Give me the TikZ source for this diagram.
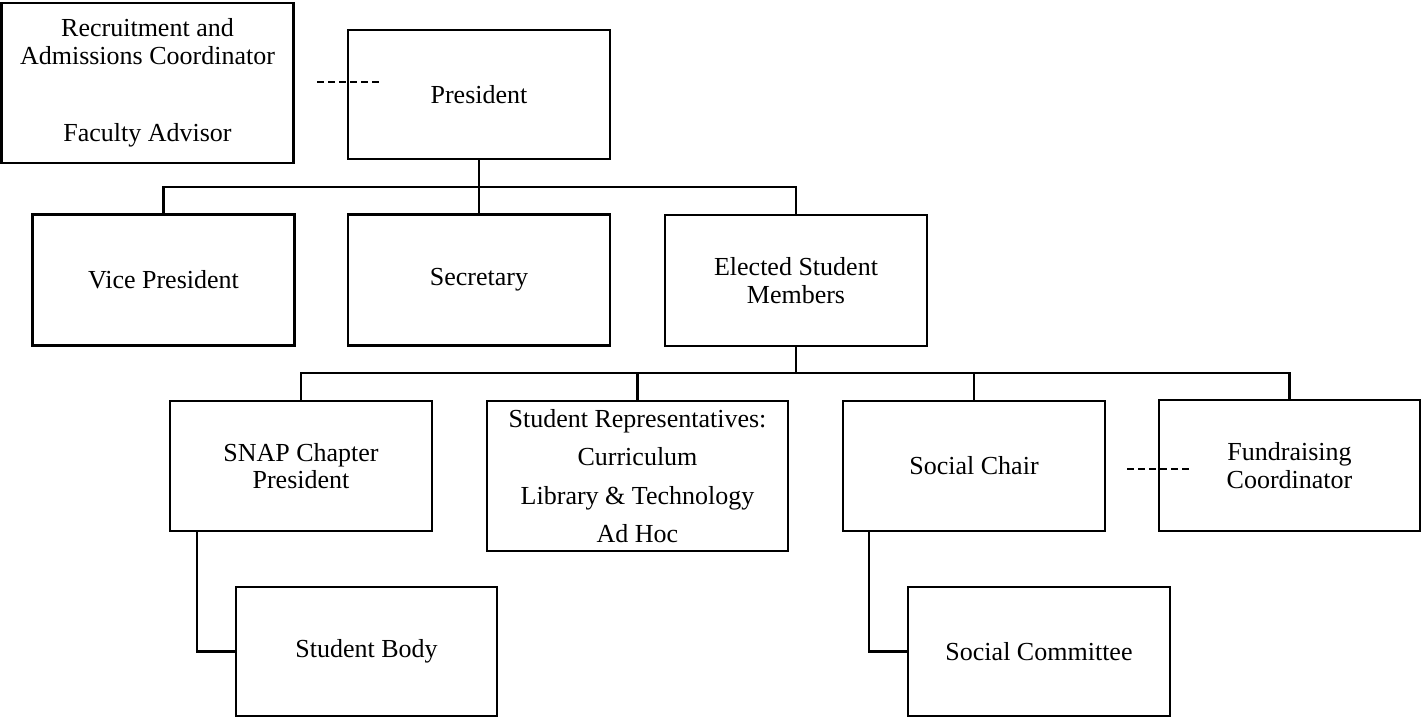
\documentclass[tikz,border=0pt]{standalone}
\usepackage{fontspec}
\setmainfont{Liberation Serif}
\begin{document}
\begin{tikzpicture}[x=1pt,y=-1pt,
  box/.style={draw, line width=2.4pt, inner sep=0pt, minimum width=262pt,
    minimum height=131pt, align=center, font=\fontsize{26}{27.5}\selectfont},
  link/.style={line width=2.4pt},
  dash link/.style={line width=1.6pt, dash pattern=on 7pt off 4pt}]
\useasboundingbox (0,0) rectangle (1421,717);

% boxes
\node[box, minimum width=292pt, minimum height=160pt] (rac) at (147.5,83)
  {Recruitment and\\Admissions Coordinator\\[49.5pt]Faculty Advisor};
\node[box, minimum height=129pt] (pres) at (479,94.5) {President};
\node[box] (vp) at (163.5,280) {Vice President};
\node[box] (sec) at (479,280) {Secretary};
\node[box] (esm) at (796,280.5) {Elected Student\\Members};
\node[box, minimum height=130pt] (snap) at (301,466) {SNAP Chapter\\President};
\node[box, minimum width=301pt, minimum height=150pt] (reps) at (637.5,476)
  {Student Representatives:\\[11pt]Curriculum\\[11pt]Library \& Technology\\[11pt]Ad Hoc};
\node[box, minimum height=130pt] (soc) at (974,466) {Social Chair};
\node[box, minimum width=261pt, minimum height=131pt] (fund) at (1289.5,465.5) {Fundraising\\Coordinator};
\node[box, minimum width=261pt, minimum height=129pt] (sbody) at (366.5,651.5) {Student Body};
\node[box, minimum height=129pt] (scom) at (1039,651.5) {Social Committee};

% bus points
\coordinate (bus1) at (479,187);
\coordinate (bus2) at (796,373);

% solid connectors
\draw[link] (pres.south) -- (bus1);
\draw[link] (vp.north) |- (bus1) -| (esm.north);
\draw[link] (sec.north) -- (bus1);
\draw[link] (esm.south) -- (bus2);
\draw[link] (snap.north) |- (bus2) -| (fund.north);
\draw[link] (reps.north) -- (reps.north |- bus2);
\draw[link] (soc.north) -- (soc.north |- bus2);
\draw[link] ([xshift=-104pt]snap.south) |- (sbody.west);
\draw[link] ([xshift=-105pt]soc.south) |- (scom.west);

% dashed connectors
\coordinate (d1a) at (317,82);
\coordinate (d1b) at (380,82);
\coordinate (d2a) at (1127,469);
\coordinate (d2b) at (1189,469);
\draw[dash link] (d1a) -- (d1b);
\draw[dash link] (d2a) -- (d2b);
\end{tikzpicture}
\end{document}
